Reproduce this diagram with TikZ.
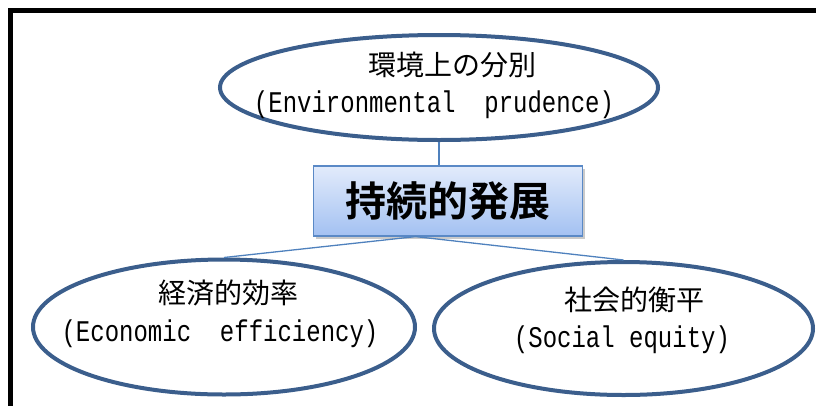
\documentclass[tikz,border=0pt]{standalone}
\usepackage{fontspec}
\newfontfamily\jp{Noto Sans CJK JP}
\newfontfamily\jpbold{Noto Sans CJK JP Bold}
\newfontfamily\lat[FakeStretch=0.8]{Liberation Mono}
\usetikzlibrary{shapes.geometric,shadows,calc}
\definecolor{ellblue}{HTML}{3B5E8C}
\definecolor{linblue}{HTML}{4F81BD}
\definecolor{boxtop}{HTML}{E2EBFB}
\definecolor{boxbot}{HTML}{A3C1F2}
\definecolor{boxedge}{HTML}{5A89C6}
\tikzset{
  ell/.style={ellipse, draw=ellblue, line width=4pt, inner sep=0pt},
  conn/.style={draw=linblue, line width=1.3pt},
  jptext/.style={font=\jp\fontsize{28}{30}\selectfont, inner sep=0pt, anchor=center},
  lattext/.style={font=\lat\fontsize{30}{32}\selectfont, inner sep=0pt, anchor=center},
  mainbox/.style={rectangle, draw=boxedge, line width=1.2pt, top color=boxtop, bottom color=boxbot,
    minimum width=269pt, minimum height=70pt, inner sep=0pt,
    drop shadow={shadow xshift=2pt, shadow yshift=-2.5pt, opacity=0.35, fill=black!60},
    font=\jpbold\fontsize{41}{43}\selectfont}
}
\begin{document}
\begin{tikzpicture}[x=1pt,y=-1pt]
\useasboundingbox (0,0) rectangle (816,405);
\clip (0,0) rectangle (816,405);
\draw[line width=5pt] (10,10.5) rectangle (850,440);

% ellipses
\node[ell, minimum width=438pt, minimum height=105pt] (env) at (439,87.5) {};
\node[ell, minimum width=382pt, minimum height=135pt] (eco) at (224,327) {};
\node[ell, minimum width=379pt, minimum height=133pt] (soc) at (623.5,328.5) {};

% central box
\node[mainbox] (box) at (448,201) {持続的発展};

% connectors
\draw[conn] (env.south) -- (env.south |- box.north);
\coordinate (apex) at ($(box.south west)!0.38!(box.south east)$);
\draw[conn] (apex) -- (eco.north);
\draw[conn] (apex) -- (soc.north);

% texts
\node[jptext] (envjp) at (452,65) {環境上の分別};
\node[lattext] (envla) at (434,105) {(Environmental\ \ prudence)};
\node[jptext] (ecojp) at (228,293) {経済的効率};
\node[lattext] (ecola) at (220,334) {(Economic\ \ efficiency)};
\node[jptext] (socjp) at (634,300) {社会的衡平};
\node[lattext] (socla) at (622,340) {(Social equity)};
\end{tikzpicture}
\end{document}
